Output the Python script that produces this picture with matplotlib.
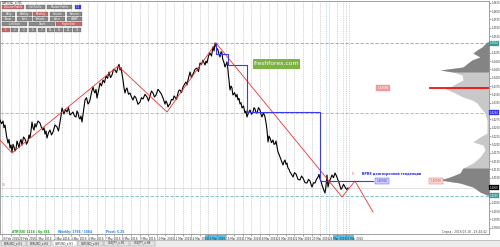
import numpy as np
import matplotlib.pyplot as plt
from matplotlib.patches import Rectangle
import matplotlib.transforms as mtransforms

# H1 closes, bar index -> price
bar_x = [0, 1.5, 3, 4, 5, 6.5, 8, 9, 10, 11,
         12, 13, 14, 15, 16, 17, 18, 19, 20, 21,
         22, 23.5, 25, 26.5, 28, 29, 30, 31, 32, 33,
         34, 35, 36, 38, 40, 41.5, 43, 44, 45, 46,
         47, 48.5, 50, 51.5, 53, 55, 57, 58.5, 60, 61,
         62, 63, 64, 65.5, 67, 68.5, 70, 71.5, 73, 74.5,
         76, 77, 78, 79, 80, 81, 82, 83.5, 85, 86.5,
         88, 89, 90, 91.5, 93, 94, 95, 96, 97, 98.5,
         100, 101.5, 103, 104.5, 106, 107.5, 109, 110.5, 112, 113.5,
         115, 116.5, 118, 119, 120, 121, 122, 123, 124, 125,
         126, 127, 128.5, 130, 131.5, 133, 134.5, 136, 138, 140,
         141.5, 143, 145, 147, 148.5, 150, 151.5, 153, 154.5, 156,
         158, 160, 161.5, 163, 164, 165, 166, 167, 168, 169,
         170, 171.5, 173, 174, 175, 176.5, 178, 179, 180, 181.5,
         183, 184.5, 186, 187, 188, 189, 190, 191.5, 193, 195,
         197, 198.5, 200, 201.5, 203, 204, 205, 206, 207, 208.5,
         210, 211.5, 213, 214, 215, 216.5, 218, 219, 220, 221,
         222, 222.5, 223, 224, 225, 226, 227, 227.5, 228, 228.5,
         229, 229.5, 230, 231, 232, 232.5, 233, 234.5, 236, 237,
         238, 239, 240, 241, 242, 243.5, 245, 246, 247, 248.5,
         250, 251.5, 253, 254, 255, 256, 257, 258.5, 260, 261,
         262, 263.5, 265, 266, 267, 267.5, 268, 269, 270, 271.5,
         273, 274, 275, 276, 277, 277.5, 278, 279, 280, 281.5,
         283, 284, 285, 286, 287, 287.5, 288, 289, 290, 291.5,
         293, 294.5, 296, 298, 300, 301.5, 303, 305, 307, 308.5,
         310, 311, 312, 313.5, 315, 316.5, 318, 319, 320, 321,
         322, 323.5, 325, 326, 327, 327.5, 328, 329, 330, 331,
         332, 333.5, 335, 336.5, 338, 339, 340, 341, 342, 343.5,
         345, 346.5, 348]
bar_close = [1.4273, 1.4262, 1.4270, 1.4250, 1.4258, 1.4225, 1.4204, 1.4215, 1.4189, 1.4198,
             1.4177, 1.4200, 1.4192, 1.4180, 1.4186, 1.4210, 1.4201, 1.4190, 1.4207, 1.4215,
             1.4198, 1.4222, 1.4216, 1.4200, 1.4210, 1.4228, 1.4219, 1.4240, 1.4267, 1.4250,
             1.4243, 1.4262, 1.4252, 1.4270, 1.4264, 1.4250, 1.4243, 1.4250, 1.4231, 1.4240,
             1.4219, 1.4235, 1.4243, 1.4228, 1.4237, 1.4258, 1.4252, 1.4240, 1.4267, 1.4285,
             1.4309, 1.4300, 1.4291, 1.4305, 1.4297, 1.4310, 1.4288, 1.4292, 1.4297, 1.4285,
             1.4282, 1.4300, 1.4294, 1.4280, 1.4276, 1.4285, 1.4267, 1.4300, 1.4333, 1.4340,
             1.4321, 1.4325, 1.4333, 1.4355, 1.4372, 1.4360, 1.4354, 1.4365, 1.4339, 1.4360,
             1.4384, 1.4375, 1.4393, 1.4385, 1.4405, 1.4398, 1.4417, 1.4400, 1.4408, 1.4425,
             1.4423, 1.4415, 1.4432, 1.4440, 1.4423, 1.4430, 1.4411, 1.4393, 1.4370, 1.4354,
             1.4365, 1.4369, 1.4350, 1.4354, 1.4342, 1.4333, 1.4345, 1.4339, 1.4320, 1.4327,
             1.4340, 1.4336, 1.4350, 1.4342, 1.4330, 1.4345, 1.4360, 1.4354, 1.4342, 1.4348,
             1.4365, 1.4357, 1.4350, 1.4339, 1.4330, 1.4321, 1.4330, 1.4324, 1.4312, 1.4318,
             1.4321, 1.4335, 1.4333, 1.4345, 1.4342, 1.4335, 1.4354, 1.4362, 1.4363, 1.4355,
             1.4372, 1.4380, 1.4387, 1.4378, 1.4393, 1.4405, 1.4417, 1.4400, 1.4411, 1.4425,
             1.4429, 1.4418, 1.4444, 1.4440, 1.4453, 1.4445, 1.4438, 1.4450, 1.4444, 1.4465,
             1.4474, 1.4465, 1.4492, 1.4480, 1.4504, 1.4490, 1.4483, 1.4470, 1.4462, 1.4478,
             1.4474, 1.4460, 1.4453, 1.4445, 1.4432, 1.4440, 1.4447, 1.4435, 1.4423, 1.4405,
             1.4393, 1.4375, 1.4363, 1.4375, 1.4369, 1.4355, 1.4348, 1.4355, 1.4342, 1.4350,
             1.4333, 1.4338, 1.4321, 1.4325, 1.4309, 1.4315, 1.4294, 1.4300, 1.4282, 1.4295,
             1.4303, 1.4290, 1.4297, 1.4310, 1.4306, 1.4295, 1.4294, 1.4310, 1.4303, 1.4290,
             1.4282, 1.4295, 1.4282, 1.4265, 1.4243, 1.4225, 1.4207, 1.4225, 1.4219, 1.4205,
             1.4213, 1.4200, 1.4201, 1.4210, 1.4192, 1.4185, 1.4177, 1.4170, 1.4162, 1.4150,
             1.4138, 1.4148, 1.4153, 1.4140, 1.4144, 1.4135, 1.4129, 1.4125, 1.4117, 1.4110,
             1.4102, 1.4115, 1.4111, 1.4095, 1.4093, 1.4105, 1.4099, 1.4085, 1.4084, 1.4095,
             1.4090, 1.4080, 1.4072, 1.4085, 1.4084, 1.4095, 1.4102, 1.4110, 1.4096, 1.4090,
             1.4078, 1.4065, 1.4054, 1.4075, 1.4108, 1.4090, 1.4072, 1.4085, 1.4093, 1.4100,
             1.4108, 1.4100, 1.4114, 1.4105, 1.4093, 1.4085, 1.4075, 1.4065, 1.4069, 1.4080,
             1.4072, 1.4065, 1.4069]

# zigzag swing points
zigzag_x = [0, 12, 118, 167, 216, 342, 355, 373]
zigzag_y = [1.4213, 1.4174, 1.4435, 1.4297, 1.4504, 1.4042, 1.4090, 1.3997]

# blue step line
step_x = [216, 216, 228, 228, 247, 247, 320, 320, 373]
step_y = [1.4504, 1.4471, 1.4471, 1.4438, 1.4438, 1.4297, 1.4297, 1.4090, 1.4090]

# volume profile (price level -> width in bars)
profile_price = [1.4507, 1.4492, 1.4483, 1.4474, 1.4462, 1.4453, 1.4444, 1.4432, 1.4423, 1.4417,
                 1.4408, 1.4393, 1.4384, 1.4372, 1.4369, 1.4357, 1.4342, 1.4333, 1.4324, 1.4312,
                 1.4294, 1.4273, 1.4234, 1.4222, 1.4207, 1.4198, 1.4183, 1.4162, 1.4144, 1.4129,
                 1.4114, 1.4102, 1.4093, 1.4084, 1.4072, 1.4057, 1.4048]
profile_width = [2, 7, 12, 16, 9, 17, 21, 26, 49, 36,
                 27, 26, 32, 39, 45, 36, 26, 17, 12, 9,
                 4, 2, 2, 9, 16, 6, 4, 9, 16, 26,
                 29, 39, 49, 29, 16, 9, 2]

high_level = 1.4504
low_level = 1.4045
mid_level = 1.4294
poc_level = 1.4369
bid_level = 1.4069

date_labels = ["26 Feb 2016", "29 Feb 2016", "1 Mar 2016", "2 Mar 2016", "3 Mar 2016",
               "4 Mar 2016", "7 Mar 2016", "8 Mar 2016", "9 Mar 2016", "10 Mar 2016",
               "11 Mar 2016", "14 Mar 2016", "15 Mar 2016", "16 Mar 2016", "17 Mar 2016",
               "18 Mar 2016", "21 Mar 2016", "22 Mar 2016", "23 Mar 2016", "24 Mar 2016",
               "25 Mar 2016"]
tab_labels = ["EURUSD_x,H1", "EURUSD_x,H4", "GBPUSD_x,H1", "GBPUSD_x,H4", "USDJPY_x,H1", "USDJPY_x,H4"]

W, H = 500, 247


def px_rect(x0, y0, x1, y1):
    return [x0 / W, 1 - y1 / H, (x1 - x0) / W, (y1 - y0) / H]


fig = plt.figure(figsize=(5, 2.47), dpi=100)
fig.patch.set_facecolor("white")

bg = fig.add_axes([0, 0, 1, 1], zorder=0)
bg.set_xlim(0, W)
bg.set_ylim(H, 0)
bg.axis("off")

ax = fig.add_axes(px_rect(0, 1, 489, 234), zorder=1)
ax.set_xlim(0, 489)
ax.set_ylim(1.3931, 1.4630)
ax.set_facecolor("white")
for s in ax.spines.values():
    s.set_color("#909090")
    s.set_linewidth(0.6)

# grid (only under the history)
ax.set_xticks(np.arange(2, 352, 17.2))
ax.set_xticklabels(date_labels, ha="left")
ax.set_xticks(np.arange(10.6, 352, 17.2), minor=True)
ax.tick_params(axis="x", which="both", length=1.5, width=0.4, color="#606060",
               labelsize=2.0, labelcolor="#303030", pad=1)
ax.grid(axis="x", which="both", color="#b4b4b4", ls=(0, (1.5, 1.5)), lw=0.45)
for xv in [326, 343, 349]:
    ax.axvline(xv, color="#9cc8dc", ls=(0, (1.5, 1.5)), lw=0.45)

box_levels = [high_level, mid_level, bid_level, low_level]
ax.yaxis.tick_right()
yt = [v for v in np.arange(1.3950, 1.4626, 0.0025)
      if min(abs(v - b) for b in box_levels) > 0.0013]
ax.set_yticks(yt)
ax.set_yticklabels([f"{v:.4f}" for v in yt])
ax.tick_params(axis="y", length=1.2, width=0.4, color="#606060",
               labelsize=1.8, labelcolor="#303030", pad=0.5)

# horizontal levels
ax.axhline(high_level, color="#70b8b8", ls=(0, (4, 2)), lw=0.6)
ax.axhline(low_level, color="#70b8b8", ls=(0, (4, 2)), lw=0.6)
ax.axhline(mid_level, color="#a8a8f0", ls=(0, (4, 2)), lw=0.6)
ax.axhline(bid_level, color="#c8c8c8", lw=0.4)

# volume profile
pp = np.array(profile_price)
pw = np.array(profile_width)
left = 489 - pw
ax.fill_betweenx(pp, left, 489, color="#c8c8c8", lw=0, zorder=2)
ax.fill_betweenx(pp, left, 489, where=(pp >= 1.4415), color="#848484", lw=0, zorder=2)
ax.fill_betweenx(pp, left, 489, where=(pp <= 1.4129), color="#848484", lw=0, zorder=2)
ax.plot([430, 489], [poc_level, poc_level], color="#f01010", lw=1.3, zorder=3)

# price, zigzag, step
ax.plot(bar_x, bar_close, color="black", lw=0.8, zorder=4)
ax.plot(zigzag_x, zigzag_y, color="#f03030", lw=0.6, zorder=5)
ax.plot(step_x, step_y, color="#3a3af0", lw=0.8, zorder=5)

# labels in chart
lbl = dict(fontsize=2.0, va="center", zorder=6)
ax.text(383, poc_level, "1.43690", ha="center", color="white",
        bbox=dict(boxstyle="square,pad=0.4", fc="#f09a9a", ec="#f09a9a", lw=0.3), **lbl)
ax.text(382, 1.4090, "1.40900", ha="center", color="#3030d0",
        bbox=dict(boxstyle="square,pad=0.4", fc="#d0d0ff", ec="#4040ff", lw=0.3), **lbl)
ax.text(436, 1.4090, "1.40900", ha="center", color="#e05050",
        bbox=dict(boxstyle="square,pad=0.4", fc="#fbd8d8", ec="#e06060", lw=0.3), **lbl)
ax.text(362, 1.4110, "BPRS долгосрочной тенденции", ha="left", color="#2020e0",
        fontsize=2.3, fontweight="bold", va="center", zorder=6)
ax.text(353, 1.4112, "5", ha="center", color="#f04040", fontsize=2.3, va="center", zorder=6)
ax.text(2, 1.4078, "55", ha="left", color="#f08050", fontsize=2.3, va="center", zorder=6)

ax.text(12, 1.3938, "ATR(50) 1116 ; Up 361", color="#20a020", fontsize=2.2,
        fontweight="bold", va="center", zorder=6)
ax.text(58, 1.3938, "Weekly: 1766 / 1564", color="#2080f0", fontsize=2.2,
        fontweight="bold", va="center", zorder=6)
ax.text(106, 1.3938, "Pivot: 5.25", color="#2080f0", fontsize=2.2,
        fontweight="bold", va="center", zorder=6)
ax.text(487, 1.3938, "Спред : 2016.03.18 - 23:44:42", color="#404040", fontsize=2.1,
        ha="right", va="center", zorder=6)

# right axis price boxes
tr = mtransforms.blended_transform_factory(ax.transAxes, ax.transData)
for lev, fc in [(high_level, "#3a9a9a"), (mid_level, "#3030f0"),
                (bid_level, "black"), (low_level, "#3a9a9a")]:
    ax.text(1.002, lev, f"{lev:.4f}", transform=tr, fontsize=1.8, color="white", ha="left",
            va="center", clip_on=False, zorder=7,
            bbox=dict(boxstyle="square,pad=0.2", fc=fc, ec=fc, lw=0.2))

# foreground: panel, watermark, tabs
fg = fig.add_axes([0, 0, 1, 1], zorder=3)
fg.set_xlim(0, W)
fg.set_ylim(H, 0)
fg.axis("off")
fg.patch.set_alpha(0)

fg.text(2, 2.5, "GBPUSD_x,H1", fontsize=2.2, color="#202020", va="center")

red_b, gray_b, blue_b = "#c86a6a", "#8a8a8a", "#3838e0"
buttons = [
    (2, 24, 5, 9.5, red_b, "Volume Profile"), (26, 45, 5, 9.5, gray_b, "Vol Profile"),
    (47, 72, 5, 9.5, gray_b, "Market Profile"), (75, 81, 5, 9.5, blue_b, "1.1"),
    (2, 15, 12, 16, gray_b, "Daily"), (17, 32, 12, 16, gray_b, "Weekly"),
    (33, 48, 12, 16, red_b, "Monthly"), (50, 65, 12, 16, gray_b, "Custom"),
    (67, 82, 12, 16, gray_b, "Session"),
    (2, 15, 17, 21, gray_b, "Show"), (17, 32, 17, 21, gray_b, "Auto"),
    (33, 48, 17, 21, gray_b, "Periods"), (50, 65, 17, 21, gray_b, "Value"),
    (67, 82, 17, 21, gray_b, "VWAP"),
    (2, 27, 22, 26.5, gray_b, "Left Side"), (29, 55, 22, 26.5, gray_b, "Chart"),
    (56, 82, 22, 26.5, red_b, "Right Side"),
]
small = ["1", "2", "3", "5", "7", "10", "15", "20", "30"]
for i, s in enumerate(small):
    x0 = 2 + i * 8.9
    buttons.append((x0, x0 + 7.5, 28, 32, red_b if i == 0 else gray_b, s))
for x0, x1, y0, y1, c, t in buttons:
    fg.add_patch(Rectangle((x0, y0), x1 - x0, y1 - y0, fc=c, ec="#505050", lw=0.2))
    fg.text((x0 + x1) / 2, (y0 + y1) / 2, t, fontsize=1.8, color="white",
            ha="center", va="center")

fg.add_patch(Rectangle((253, 59), 47, 9.5, fc="#7cb342", ec="none"))
fg.text(276.5, 63.8, "freshforex.com", fontsize=4.3, color="white", ha="center", va="center")

# highlighted date labels
for x0, x1 in [(205, 226), (333, 354)]:
    bg.add_patch(Rectangle((x0, 234.5), x1 - x0, 5, fc="#4cc4f4", ec="none"))

# tab bar
bg.add_patch(Rectangle((0, 240), W, 7, fc="#ececec", ec="none"))
bg.plot([0, W], [240, 240], color="#a0a0a0", lw=0.4)
for i, t in enumerate(tab_labels):
    x0 = 1 + i * 25.8
    active = (i == 2)
    bg.add_patch(Rectangle((x0, 240.5 if not active else 240), 24.5, 5.5,
                           fc="white" if active else "#e4e4e4", ec="#909090", lw=0.3))
    bg.text(x0 + 12.2, 243.2, t, fontsize=2.0, color="#303030", ha="center", va="center")

fig.savefig("out.png", dpi=100)
